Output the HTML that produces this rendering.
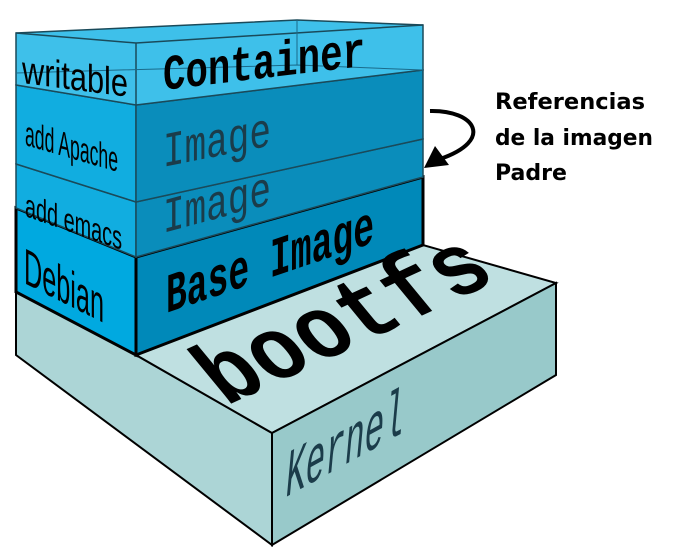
<!DOCTYPE html>
<html><head><meta charset="utf-8"><style>
html,body{margin:0;padding:0;background:#fff;}
svg{display:block;}
.mono{font-family:"Liberation Mono",monospace;}
.sans{font-family:"Liberation Sans",sans-serif;}
</style></head><body>
<svg width="673" height="548" viewBox="0 0 673 548" xmlns="http://www.w3.org/2000/svg">
<!-- Kernel slab -->
<polygon points="16,292 136,355 272,433 272,545 16,355" fill="#acd5d6" stroke="#000" stroke-width="2"/>
<polygon points="136,355 423,245 556,283 272,433" fill="#bfe0e1" stroke="#000" stroke-width="2"/>
<polygon points="272,433 556,283 556,375 272,545" fill="#98c9ca" stroke="#000" stroke-width="2"/>

<!-- Debian / Base Image -->
<polygon points="16,208 136,257 136,355 16,292" fill="#00a9e0" stroke="#000" stroke-width="3"/>
<polygon points="136,257 423,177 423,245 136,355" fill="#0089b9" stroke="#000" stroke-width="3"/>
<!-- emacs layer -->
<polygon points="16,164 136,202 136,257 16,208" fill="#11ade0" stroke="#1a4a5a" stroke-width="1.5"/>
<polygon points="136,202 423,139 423,177 136,257" fill="#0a8dbb" stroke="#1a4a5a" stroke-width="1.5"/>
<!-- apache layer -->
<polygon points="16,85 136,105 136,202 16,164" fill="#11ade0" stroke="#1a4a5a" stroke-width="1.5"/>
<polygon points="136,105 423,70 423,139 136,202" fill="#0a8dbb" stroke="#1a4a5a" stroke-width="1.5"/>
<!-- container -->
<polygon points="16,33 297,20 423,25 423,70 136,105 16,85" fill="#3ec0ea" stroke="#1a4a5a" stroke-width="1.5"/>
<polyline points="16,33 136,43 423,25" fill="none" stroke="#1a4a5a" stroke-width="1.5"/>
<line x1="136" y1="43" x2="136" y2="105" stroke="#1a4a5a" stroke-width="1.5"/>
<line x1="297" y1="20" x2="297" y2="65" stroke="#1a6a8a" stroke-width="1"/>
<polyline points="16,73 297,65 423,70" fill="none" stroke="#1a6a8a" stroke-width="1"/>

<!-- left labels -->
<text class="sans" transform="matrix(1,0.13,0,1.5,22,83)" font-size="26" textLength="106" lengthAdjust="spacingAndGlyphs">writable</text>
<text class="sans" transform="matrix(1,0.29,0,1.6,25,145)" font-size="22" textLength="93" lengthAdjust="spacingAndGlyphs">add Apache</text>
<text class="sans" transform="matrix(1,0.35,0,1.5,25,216)" font-size="22" textLength="97" lengthAdjust="spacingAndGlyphs">add emacs</text>
<text class="sans" transform="matrix(1,0.5,0,1.7,24,283)" font-size="30" textLength="80" lengthAdjust="spacingAndGlyphs">Debian</text>

<!-- right labels -->
<text class="mono" font-weight="bold" transform="matrix(1,-0.12,0,1.25,163,90)" font-size="40" textLength="202" lengthAdjust="spacingAndGlyphs">Container</text>
<text class="mono" fill="#1b3c4a" transform="matrix(1,-0.2,0,1.45,163,167)" font-size="34" textLength="108" lengthAdjust="spacingAndGlyphs">Image</text>
<text class="mono" fill="#1b3c4a" transform="matrix(1,-0.27,0,1.45,163,233)" font-size="34" textLength="108" lengthAdjust="spacingAndGlyphs">Image</text>
<text class="mono" font-weight="bold" transform="matrix(1,-0.34,0,1.4,166,313)" font-size="40" textLength="208" lengthAdjust="spacingAndGlyphs">Base Image</text>

<!-- bootfs -->
<text class="mono" font-weight="bold" transform="matrix(0.91,-0.42,0.62,0.75,226,406)" font-size="100" textLength="300" lengthAdjust="spacingAndGlyphs">bootfs</text>
<!-- Kernel -->
<text class="mono" font-style="italic" fill="#1b3c4a" transform="matrix(1,-0.55,0,1.5,286,497)" font-size="44" textLength="118" lengthAdjust="spacingAndGlyphs">Kernel</text>

<!-- arrow -->
<path d="M430,111 C475,110 495,140 440,159" fill="none" stroke="#000" stroke-width="4"/>
<polygon points="424,168 435,146 449,165" fill="#000"/>
<g font-family="DejaVu Sans, sans-serif" font-weight="bold" font-size="22" fill="#000">
<text x="495" y="109" textLength="150" lengthAdjust="spacingAndGlyphs">Referencias</text>
<text x="495" y="145" textLength="158" lengthAdjust="spacingAndGlyphs">de la imagen</text>
<text x="495" y="180" textLength="72" lengthAdjust="spacingAndGlyphs">Padre</text>
</g>
</svg>
</body></html>
